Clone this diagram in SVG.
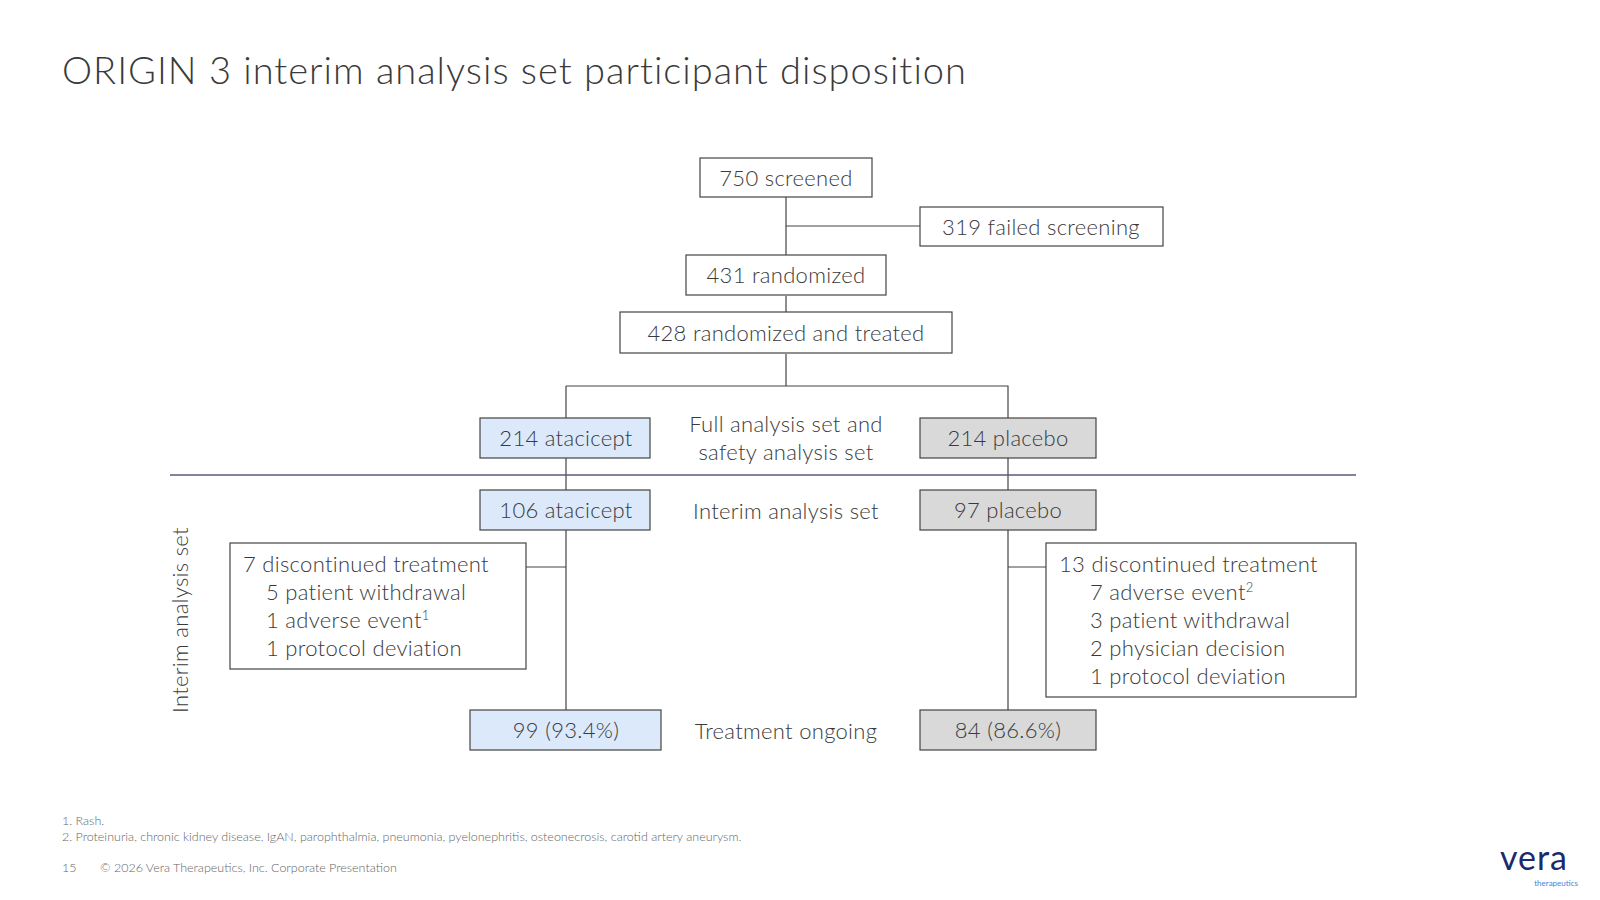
<svg xmlns="http://www.w3.org/2000/svg" width="1600" height="900" viewBox="0 0 1600 900">
<style>
text{font-family:Lato,"Noto Sans",sans-serif;fill:#3a3a3a;font-weight:300}
.b{fill:#fff;stroke:#444;stroke-width:1.2}
.a{fill:#dbe9fa;stroke:#444;stroke-width:1.2}
.p{fill:#d9d9d9;stroke:#444;stroke-width:1.2}
.t{font-size:22px;letter-spacing:0.3px}
.c{text-anchor:middle}
.l{stroke:#444;stroke-width:1.2;fill:none}
.f{font-size:12.5px;fill:#666}
</style>
<rect width="1600" height="900" fill="#fff"/>
<text x="62" y="84" font-size="38" letter-spacing="1" fill="#444">ORIGIN 3 interim analysis set participant disposition</text>
<g id="connectors">
<path class="l" d="M786 197V256M786 226H920M786 296V312M786 354V386M566 386H1008V418M566 386V418M566 458V490M1008 458V490M566 530V710M1008 530V710M526 567H566M1008 567H1046"/>
<path d="M170 475H1356" stroke="#5a5a7a" stroke-width="1.5"/>
</g>
<g id="screened"><rect class="b" x="700" y="158" width="172" height="39"/><text class="t c" x="786" y="186">750 screened</text></g>
<g id="failed"><rect class="b" x="920" y="207" width="243" height="39"/><text class="t c" x="1041" y="235">319 failed screening</text></g>
<g id="randomized"><rect class="b" x="686" y="255" width="200" height="40"/><text class="t c" x="786" y="283">431 randomized</text></g>
<g id="treated"><rect class="b" x="620" y="312" width="332" height="41"/><text class="t c" x="786" y="341">428 randomized and treated</text></g>
<g id="ata214"><rect class="a" x="480" y="418" width="170" height="40"/><text class="t c" x="566" y="446">214 atacicept</text></g>
<g id="fas"><text class="t c" x="786" y="432">Full analysis set and</text><text class="t c" x="786" y="460">safety analysis set</text></g>
<g id="pla214"><rect class="p" x="920" y="418" width="176" height="40"/><text class="t c" x="1008" y="446">214 placebo</text></g>
<g id="ata106"><rect class="a" x="480" y="490" width="170" height="40"/><text class="t c" x="566" y="518">106 atacicept</text></g>
<g id="ias"><text class="t c" x="786" y="519">Interim analysis set</text></g>
<g id="pla97"><rect class="p" x="920" y="490" width="176" height="40"/><text class="t c" x="1008" y="518">97 placebo</text></g>
<g id="side"><text class="t c" transform="translate(188,620) rotate(-90)">Interim analysis set</text></g>
<g id="discA"><rect class="b" x="230" y="543" width="296" height="126"/>
<text class="t" x="243" y="572">7 discontinued treatment</text>
<text class="t" x="266" y="600">5 patient withdrawal</text>
<text class="t" x="266" y="628">1 adverse event<tspan font-size="13" dy="-8">1</tspan></text>
<text class="t" x="266" y="656">1 protocol deviation</text></g>
<g id="discP"><rect class="b" x="1046" y="543" width="310" height="154"/>
<text class="t" x="1059" y="572">13 discontinued treatment</text>
<text class="t" x="1090" y="600">7 adverse event<tspan font-size="13" dy="-8">2</tspan></text>
<text class="t" x="1090" y="628">3 patient withdrawal</text>
<text class="t" x="1090" y="656">2 physician decision</text>
<text class="t" x="1090" y="684">1 protocol deviation</text></g>
<g id="ongA"><rect class="a" x="470" y="710" width="191" height="40"/><text class="t c" x="566" y="738">99 (93.4%)</text></g>
<g id="ong"><text class="t c" x="786" y="739">Treatment ongoing</text></g>
<g id="ongP"><rect class="p" x="920" y="710" width="176" height="40"/><text class="t c" x="1008" y="738">84 (86.6%)</text></g>
<text class="f" x="62" y="825">1. Rash.</text>
<text class="f" x="62" y="841">2. Proteinuria, chronic kidney disease, IgAN, parophthalmia, pneumonia, pyelonephritis, osteonecrosis, carotid artery aneurysm.</text>
<text class="f" x="62" y="872">15</text>
<text class="f" x="100" y="872">© 2026 Vera Therapeutics, Inc. Corporate Presentation</text>
<text x="1534" y="870" font-size="34" text-anchor="middle" style="fill:#1a2a6c;font-weight:400" letter-spacing="1">vera</text>
<text x="1578" y="886" font-size="8" text-anchor="end" style="fill:#4a7fd8;font-weight:400">therapeutics</text>
</svg>
